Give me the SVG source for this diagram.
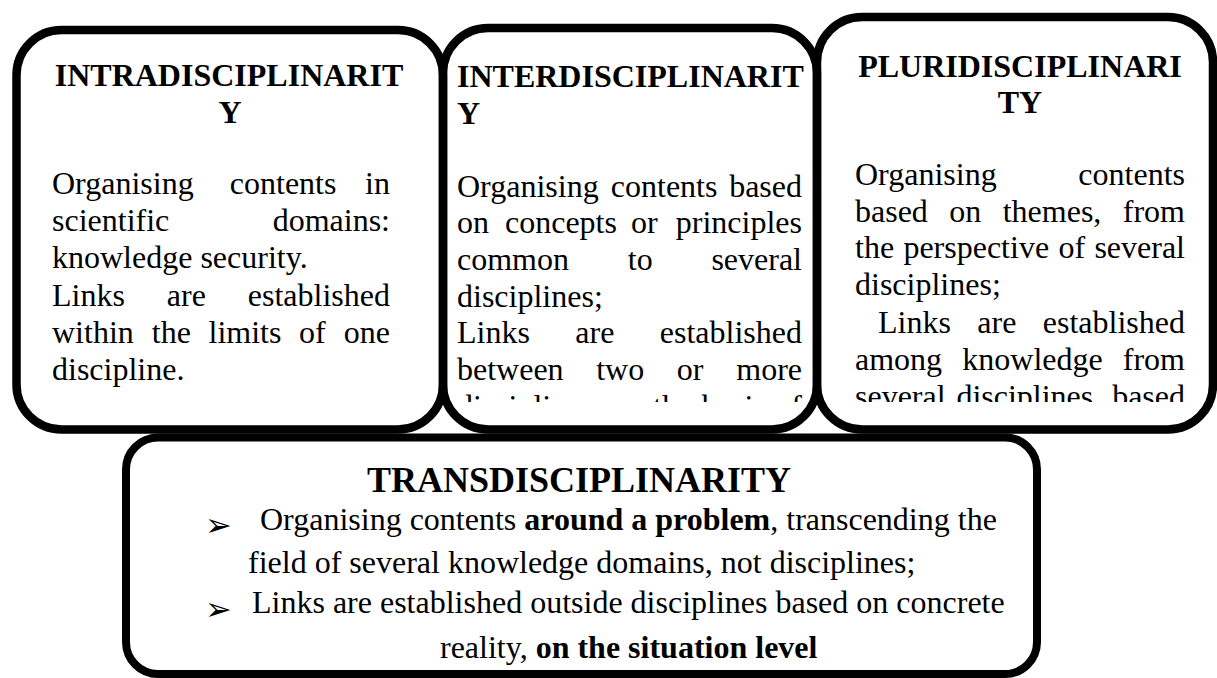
<svg xmlns="http://www.w3.org/2000/svg" width="1217" height="678" viewBox="0 0 1217 678">
<defs>
<style>
.frame{fill:none;stroke:#000;stroke-width:8.5}
.t{font-family:"Liberation Serif","Times New Roman",serif;font-size:32px;fill:#000}
.b{font-weight:bold}
.title{font-family:"Liberation Serif","Times New Roman",serif;font-size:32px;font-weight:bold;fill:#000}
.end{text-anchor:end}
.mid{text-anchor:middle}
.bul{font-family:"DejaVu Sans",sans-serif;font-size:32px;fill:#000}
</style>
<clipPath id="clip2"><rect x="447" y="32" width="366" height="370"/></clipPath>
<clipPath id="clip3"><rect x="821" y="21" width="390" height="381"/></clipPath>
</defs>
<rect width="1217" height="678" fill="#fff"/>

<g id="intradisciplinarity">
<rect class="frame" x="16.5" y="30" width="426.5" height="399.5" rx="45"/>
<text class="title mid" x="229" y="86">INTRADISCIPLINARIT</text>
<text class="title mid" x="230" y="123">Y</text>
<text class="t" x="52" y="194">Organising</text><text class="t" x="229.8" y="194">contents</text><text class="t end" x="390" y="194">in</text>
<text class="t" x="52" y="231">scientific</text><text class="t end" x="390" y="231">domains:</text>
<text class="t" x="52" y="268">knowledge security.</text>
<text class="t" x="52" y="306">Links</text><text class="t" x="166.8" y="306">are</text><text class="t end" x="390" y="306">established</text>
<text class="t" x="52" y="343">within</text><text class="t" x="151.8" y="343">the</text><text class="t" x="208.5" y="343">limits</text><text class="t" x="299" y="343">of</text><text class="t end" x="390" y="343">one</text>
<text class="t" x="52" y="380">discipline.</text>
</g>

<g id="interdisciplinarity">
<rect class="frame" x="443" y="28" width="374" height="401.5" rx="45"/>
<g clip-path="url(#clip2)">
<text class="title" x="457" y="87">INTERDISCIPLINARIT</text>
<text class="title" x="457" y="124">Y</text>
<text class="t" x="457" y="197">Organising</text><text class="t" x="610.8" y="197">contents</text><text class="t end" x="802" y="197">based</text>
<text class="t" x="457" y="233">on</text><text class="t" x="505" y="233">concepts</text><text class="t" x="631" y="233">or</text><text class="t end" x="802" y="233">principles</text>
<text class="t" x="457" y="270">common</text><text class="t" x="627.8" y="270">to</text><text class="t end" x="802" y="270">several</text>
<text class="t" x="457" y="307">disciplines;</text>
<text class="t" x="457" y="343">Links</text><text class="t" x="575.3" y="343">are</text><text class="t end" x="802" y="343">established</text>
<text class="t" x="457" y="380">between</text><text class="t" x="596.2" y="380">two</text><text class="t" x="676.8" y="380">or</text><text class="t end" x="802" y="380">more</text>
<text class="t" x="457" y="417">disciplines,</text><text class="t" x="611.5" y="417">on</text><text class="t" x="653" y="417">the</text><text class="t" x="701.8" y="417">basis</text><text class="t end" x="802" y="417">of</text>
</g>
</g>

<g id="pluridisciplinarity">
<rect class="frame" x="817" y="17" width="396" height="412.5" rx="45"/>
<g clip-path="url(#clip3)">
<text class="title mid" x="1020" y="77">PLURIDISCIPLINARI</text>
<text class="title mid" x="1020" y="113">TY</text>
<text class="t" x="855" y="185">Organising</text><text class="t end" x="1185" y="185">contents</text>
<text class="t" x="855" y="222">based</text><text class="t" x="949.3" y="222">on</text><text class="t" x="1002.7" y="222">themes,</text><text class="t end" x="1185" y="222">from</text>
<text class="t" x="855" y="258">the</text><text class="t" x="903.4" y="258">perspective</text><text class="t" x="1058.4" y="258">of</text><text class="t end" x="1185" y="258">several</text>
<text class="t" x="855" y="295">disciplines;</text>
<text class="t" x="878" y="333">Links</text><text class="t" x="977.3" y="333">are</text><text class="t end" x="1185" y="333">established</text>
<text class="t" x="855" y="370">among</text><text class="t" x="962.3" y="370">knowledge</text><text class="t end" x="1185" y="370">from</text>
<text class="t" x="855" y="407">several</text><text class="t" x="956.4" y="407">disciplines,</text><text class="t end" x="1185" y="407">based</text>
</g>
</g>

<g id="transdisciplinarity">
<rect class="frame" x="126" y="437.5" width="911" height="236.5" rx="32" style="stroke-width:8"/>
<text class="title mid" x="579" y="492" style="font-size:36px">TRANSDISCIPLINARITY</text>
<text class="bul" x="205" y="536">➢</text>
<text class="t" x="260" y="530">Organising contents <tspan class="b">around a problem</tspan>, transcending the</text>
<text class="t" x="248" y="573">field of several knowledge domains, not disciplines;</text>
<text class="bul" x="205" y="620">➢</text>
<text class="t" x="252" y="613">Links are established outside disciplines based on concrete</text>
<text class="t" x="440" y="658">reality, <tspan class="b">on the situation level</tspan></text>
</g>
</svg>
